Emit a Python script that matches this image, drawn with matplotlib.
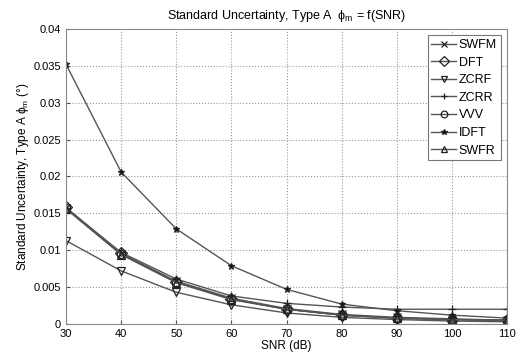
import numpy as np
import matplotlib
matplotlib.use("Agg")
import matplotlib.pyplot as plt

plt.rcParams['font.family'] = ['Liberation Sans', 'DejaVu Sans']
plt.rcParams['mathtext.fontset'] = 'custom'
plt.rcParams['mathtext.rm'] = 'Liberation Sans'
plt.rcParams['mathtext.it'] = 'Liberation Sans'

snr = [30, 40, 50, 60, 70, 80, 90, 100, 110]

swfm = [0.0157, 0.0095, 0.0058, 0.0035, 0.0021, 0.0013, 0.0009, 0.0007, 0.0005]
dft  = [0.0158, 0.0096, 0.0057, 0.0034, 0.0020, 0.0012, 0.0008, 0.0006, 0.0005]
zcrf = [0.0113, 0.0072, 0.0043, 0.0026, 0.0015, 0.0009, 0.0006, 0.0004, 0.0003]
zcrr = [0.0157, 0.0097, 0.0061, 0.0038, 0.0028, 0.0023, 0.0020, 0.0020, 0.0020]
vvv  = [0.0157, 0.0095, 0.0057, 0.0034, 0.0020, 0.0012, 0.0008, 0.0006, 0.0005]
idft = [0.0352, 0.0206, 0.0129, 0.0079, 0.0047, 0.0027, 0.0018, 0.0012, 0.0008]
swfr = [0.0156, 0.0094, 0.0056, 0.0033, 0.0020, 0.0012, 0.0008, 0.0006, 0.0005]

series = [("SWFM", swfm, 'x'), ("DFT", dft, 'D'), ("ZCRF", zcrf, 'v'),
          ("ZCRR", zcrr, '+'), ("VVV", vvv, 'o'), ("IDFT", idft, '*'),
          ("SWFR", swfr, '^')]

fig = plt.figure(figsize=(5.2, 3.58), dpi=100)
ax = fig.add_axes([0.127, 0.095, 0.848, 0.824])

for name, vals, m in series:
    filled = m in ('*',)
    ax.plot(snr, vals, color='#555555', lw=1.0, marker=m, markersize=6 if m != '*' else 5,
            markerfacecolor='black' if filled else 'none', markeredgecolor='#222222',
            markeredgewidth=0.9, label=name)

ax.set_xlim(30, 110)
ax.set_ylim(0, 0.04)
ax.set_xticks(np.arange(30, 111, 10))
ax.set_yticks(np.arange(0, 0.0401, 0.005))
ax.set_yticklabels(['0', '0.005', '0.01', '0.015', '0.02', '0.025', '0.03', '0.035', '0.04'])
ax.tick_params(direction='in', labelsize=8, length=3, color='#555555')
ax.grid(True, linestyle=':', color='#999999', lw=0.8)
for s in ax.spines.values():
    s.set_color('#888888')

ax.set_xlabel("SNR (dB)", fontsize=8.5, labelpad=1)
ax.set_ylabel(r"Standard Uncertainty, Type A $\phi_m$ (°)", fontsize=8.5, labelpad=2)
ax.set_title(r"Standard Uncertainty, Type A  $\phi_m$ = f(SNR)", fontsize=9, pad=7)

leg = ax.legend(loc='upper right', fontsize=9, handlelength=2.0, handletextpad=0.2,
                labelspacing=0.45, borderpad=0.3, fancybox=False, framealpha=1,
                borderaxespad=0.5, markerscale=0.8)
leg.get_frame().set_edgecolor('#777777')
leg.get_frame().set_linewidth(0.8)

fig.savefig("out.png", dpi=100)
